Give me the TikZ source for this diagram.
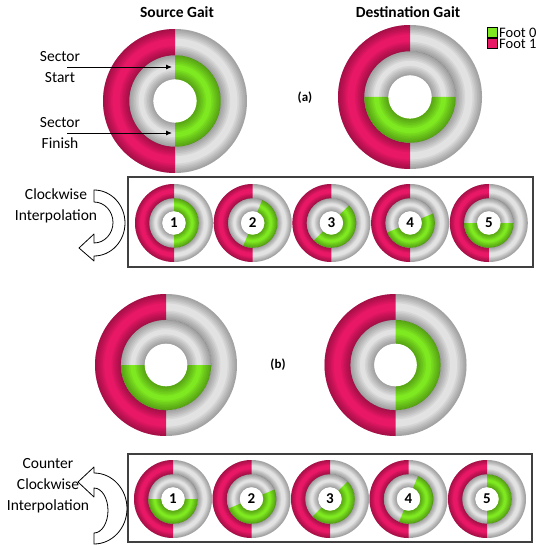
\documentclass[tikz,border=0pt]{standalone}
\usepackage{fontspec}
\setmainfont{Carlito}
\usepackage{tikz}
\usetikzlibrary{positioning,arrows.meta}
\tikzstyle{gaitCanvas} = [x = 1pt, y = -1pt]
\definecolor{footZeroColor}{RGB}{126,232,32}
\definecolor{footOneColor}{RGB}{233,24,102}
\definecolor{ringColor}{RGB}{226,226,226}
\tikzstyle{ringStyle} = [fill=ringColor]
\tikzstyle{footZeroStyle} = [fill=footZeroColor]
\tikzstyle{footOneStyle} = [fill=footOneColor]
\tikzstyle{tubeShade} = [draw=black, opacity=0.05]
\tikzstyle{holeStyle} = [fill=white]
\tikzstyle{labelText} = [font=\fontsize{15.5}{21}\selectfont, align=center]
\tikzstyle{titleText} = [font=\fontsize{15.5}{19}\selectfont\bfseries]
\tikzstyle{stepText} = [font=\fontsize{15}{18}\selectfont\bfseries, inner sep=0pt]
\tikzstyle{partText} = [font=\fontsize{13}{16}\selectfont\bfseries]
\tikzstyle{legendText} = [font=\fontsize{14.5}{11}\selectfont, inner sep=0pt, align=left]
\tikzstyle{legendBox} = [draw=black, line width=0.6pt, minimum size=10pt, inner sep=0pt]
\tikzstyle{frameStyle} = [draw=black!75, line width=1.2pt]
\tikzstyle{pointer} = [-{Latex[length=6pt,width=5pt]}, line width=0.9pt]
\tikzstyle{bendArrow} = [draw=black, fill=white, line width=0.8pt, line join=round]
\newcommand{\tubeEdges}[4]{
  \foreach \layer in {1,...,6} {
    \pgfmathsetmacro{\shadeRadius}{#3 + \layer * (#4) / 2}
    \pgfmathsetmacro{\shadeWidth}{abs(\layer * (#4))}
    \draw [tubeShade, line width = \shadeWidth pt] (#1,#2) circle (\shadeRadius);
  }
}
\newcommand{\gaitDonut}[7]{
  \pgfmathsetmacro{\outerRadius}{#3}
  \pgfmathsetmacro{\midRadius}{#3 * 0.635}
  \pgfmathsetmacro{\holeRadius}{#3 * 0.3}
  \pgfmathsetmacro{\shadeStep}{#3 * 0.022}
  \fill [ringStyle] (#1,#2) circle (\outerRadius);
  \fill [footOneStyle] (#1,#2) -- ++(90:\outerRadius) arc [start angle=90, end angle=270, radius=\outerRadius] -- cycle;
  \fill [ringStyle] (#1,#2) circle (\midRadius);
  \fill [footZeroStyle] (#1,#2) -- ++({#4 - 90}:\midRadius) arc [start angle={#4 - 90}, end angle={#5 - 90}, radius=\midRadius] -- cycle;
  \tubeEdges{#1}{#2}{\outerRadius}{-\shadeStep}
  \tubeEdges{#1}{#2}{\midRadius}{\shadeStep}
  \tubeEdges{#1}{#2}{\midRadius}{-\shadeStep}
  \tubeEdges{#1}{#2}{\holeRadius}{\shadeStep}
  \fill [holeStyle] (#1,#2) circle (\holeRadius);
  \node [stepText] (#6) at (#1,#2) {#7};
}

\begin{document}
\begin{tikzpicture}[gaitCanvas]
  \useasboundingbox (0,0) rectangle (542,545);
  \node [titleText] (sourceTitle) at (177,12) {Source Gait};
  \node [titleText] (destinationTitle) at (408,12) {Destination Gait};
  \node [legendBox, fill=footZeroColor] (footZeroBox) at (492,32) {};
  \node [legendBox, fill=footOneColor, below=1pt of footZeroBox] (footOneBox) {};
  \node [legendText, anchor=west] (footLegend) at (499,38) {Foot 0\\Foot 1};

  \gaitDonut{175}{101}{72}{0}{180}{sourceA}{}
  \gaitDonut{410}{97}{72}{90}{270}{destinationA}{}
  \node [partText] (partA) at (305,98) {(a)};
  \node [labelText] (sectorStartText) at (60,67) {Sector\\Start};
  \node [labelText] (sectorFinishText) at (60,133) {Sector\\Finish};
  \coordinate (sectorStartTip) at (172,67);
  \coordinate (sectorFinishTip) at (172,133);
  \draw [pointer] ([xshift=7pt]sectorStartText.center) -- (sectorStartTip);
  \draw [pointer] ([xshift=7pt]sectorFinishText.center) -- (sectorFinishTip);

  \draw [frameStyle] (128,177) rectangle (533,267);
  \foreach \step in {1,...,5} {
    \pgfmathsetmacro{\stepX}{174 + (\step - 1) * 78.7}
    \pgfmathsetmacro{\stepStart}{(\step - 1) * 22.5}
    \pgfmathsetmacro{\stepFinish}{180 + (\step - 1) * 22.5}
    \gaitDonut{\stepX}{223}{39}{\stepStart}{\stepFinish}{clockStep\step}{\step}
  }
  \node [labelText] (clockwiseText) at (56,206) {Clockwise\\Interpolation};
  \draw [bendArrow] (94,190) arc [start angle=-90, end angle=90, x radius=31, y radius=33] -- (94,261) -- (79,248) -- (94,234) -- (94,243) arc [start angle=90, end angle=-90, x radius=19, y radius=20.5] -- cycle;

  \gaitDonut{166}{365}{71}{90}{270}{sourceB}{}
  \gaitDonut{395.5}{365}{71}{0}{180}{destinationB}{}
  \node [partText] (partB) at (278,365) {(b)};

  \draw [frameStyle] (128,454) rectangle (532,542);
  \foreach \step in {1,...,5} {
    \pgfmathsetmacro{\stepX}{173 + (\step - 1) * 78.5}
    \pgfmathsetmacro{\stepStart}{90 - (\step - 1) * 22.5}
    \pgfmathsetmacro{\stepFinish}{270 - (\step - 1) * 22.5}
    \gaitDonut{\stepX}{499}{39}{\stepStart}{\stepFinish}{counterStep\step}{\step}
  }
  \node [labelText] (counterText) at (48,486) {Counter\\Clockwise\\Interpolation};
  \draw [bendArrow] (94,544) -- (94,533) arc [start angle=90, end angle=-90, x radius=14, y radius=22.5] -- (94,497) -- (78,482) -- (94,467) -- (94,473) arc [start angle=-90, end angle=90, x radius=33, y radius=35.5] -- cycle;
\end{tikzpicture}
\end{document}
